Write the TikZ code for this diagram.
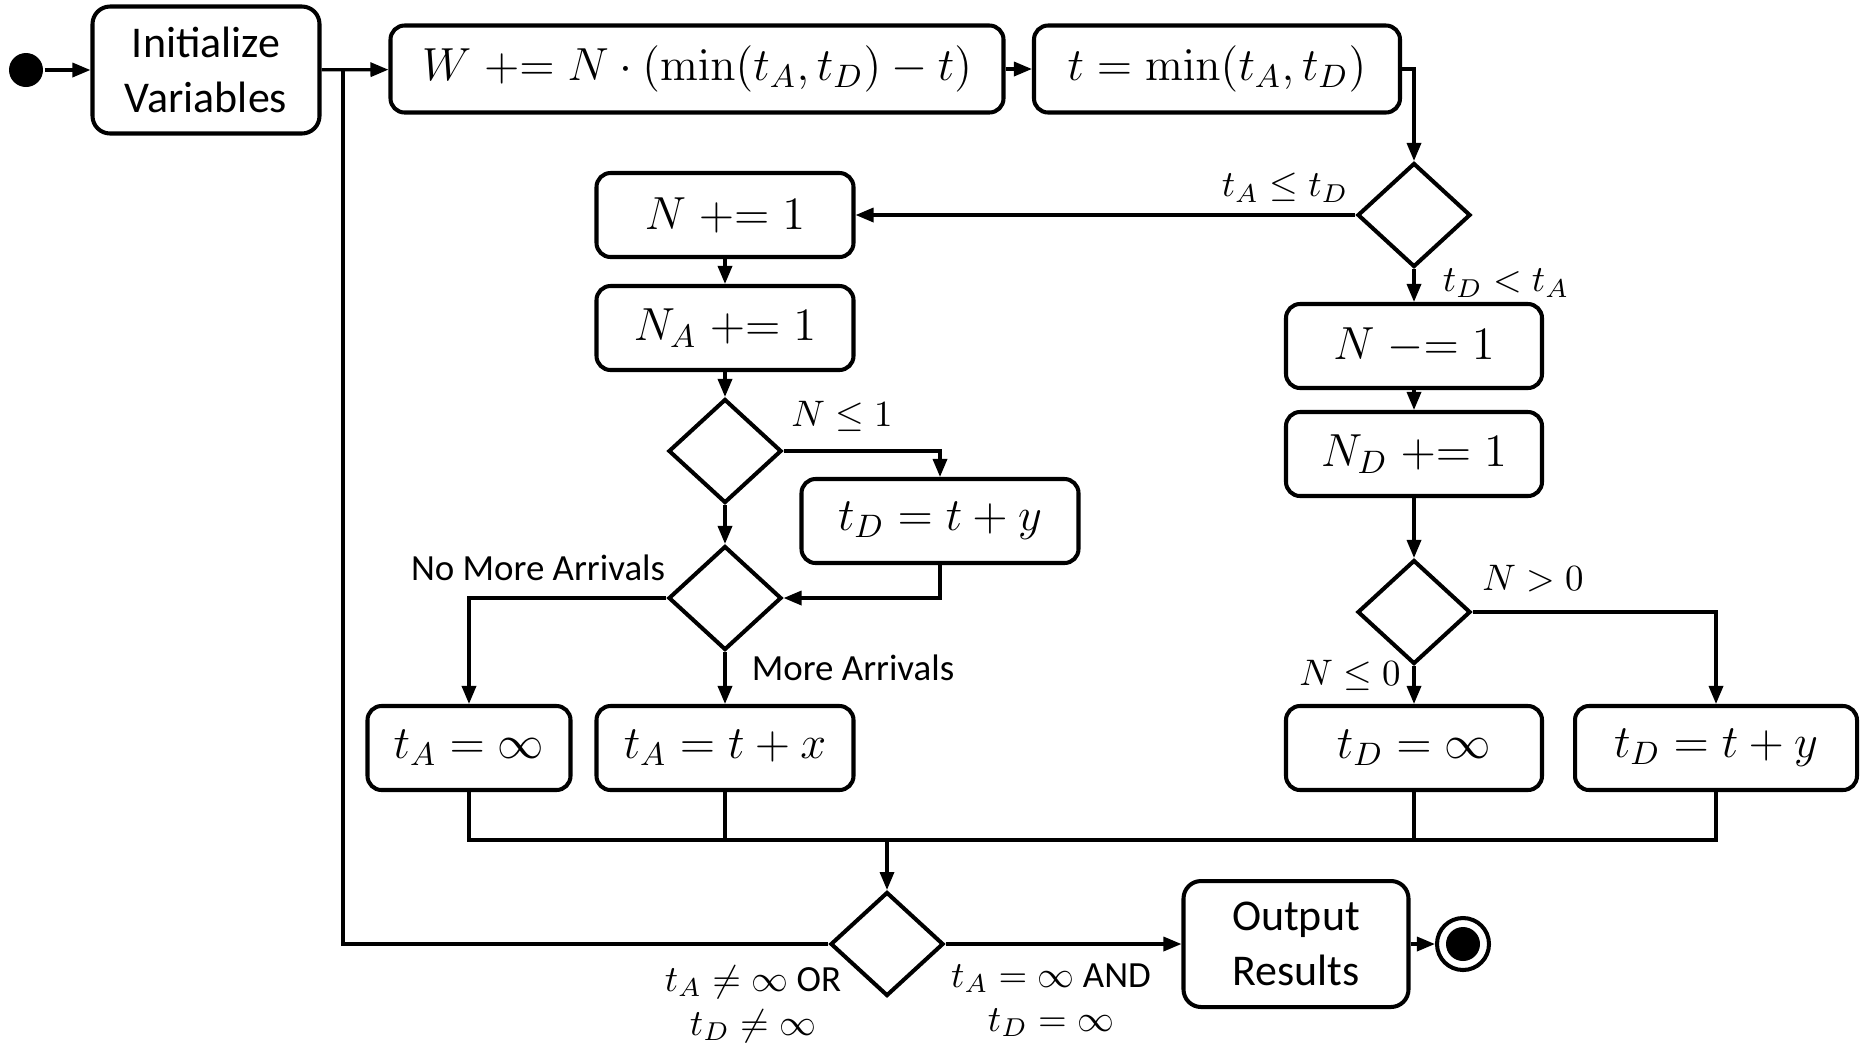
\RequirePackage{fix-cm}
\documentclass[tikz,border=0pt]{standalone}
\usepackage[no-math]{fontspec}
\setmainfont{Carlito}
\usetikzlibrary{shapes.geometric,arrows.meta}

\begin{document}
\begin{tikzpicture}[
	x=0.1mm,
	y=-0.1mm,
	>={Triangle[length=1.8mm,width=1.4mm]},
	line width=0.95pt,
	box/.style={draw, line width=1.15pt, rounded corners=4pt, align=center, inner sep=0pt, minimum height=8.4mm, font=\fontsize{13.2}{15.5}\selectfont},
	textbox/.style={draw, line width=1.15pt, rounded corners=5pt, align=center, inner sep=0pt, font=\fontsize{12.5}{15.5}\selectfont},
	decision/.style={draw, diamond, line width=1.15pt, minimum width=11.3mm, minimum height=10.4mm, inner sep=0pt},
	dot/.style={circle, fill, minimum size=3.4mm, inner sep=0pt},
	lbl/.style={font=\fontsize{10.5}{12.5}\selectfont, inner sep=1pt, align=center}
]
	\useasboundingbox (0,0) rectangle (1860,1046);

	\node[dot] (start) at (26,70) {};
	\node[textbox, minimum width=22.7mm, minimum height=12.7mm] (init) at (206,70) {Initialize\\Variables};
	\node[box, minimum width=61.3mm, minimum height=8.7mm] (wupd) at (697,69) {$W \mathrel{+}= N\cdot(\min(t_A,t_D)-t)$};
	\node[box, minimum width=36.6mm, minimum height=8.7mm] (tmin) at (1217,69) {$t=\min(t_A,t_D)$};

	\node[decision] (arrdep) at (1414,215) {};

	% arrival side
	\node[box, minimum width=25.7mm] (ninc)   at (725,215) {$N \mathrel{+}= 1$};
	\node[box, minimum width=25.7mm] (nainc)  at (725,328) {$N_A \mathrel{+}= 1$};
	\node[decision] (busy) at (725,451) {};
	\node[box, minimum width=27.7mm] (tdset)  at (940,521) {$t_D=t+y$};
	\node[decision] (more) at (725,598) {};
	\node[box, minimum width=20.3mm] (tainf)  at (469,748) {$t_A=\infty$};
	\node[box, minimum width=25.7mm] (tanext) at (725,748) {$t_A=t+x$};

	% departure side
	\node[box, minimum width=25.6mm] (ndec)   at (1414,346) {$N \mathrel{-}= 1$};
	\node[box, minimum width=25.6mm] (ndinc)  at (1414,454) {$N_D \mathrel{+}= 1$};
	\node[decision] (empty) at (1414,612) {};
	\node[box, minimum width=25.6mm] (tdinf)  at (1414,748) {$t_D=\infty$};
	\node[box, minimum width=28.2mm] (tdnext) at (1716,748) {$t_D=t+y$};

	\node[decision] (done) at (887,944) {};
	\node[textbox, minimum width=22.5mm, minimum height=12.6mm] (output) at (1296,944) {Output\\Results};
	\node[circle, draw, line width=1.15pt, minimum size=5.2mm, inner sep=0pt] (stop) at (1463,944) {};
	\node[dot] (stopdot) at (stop) {};

	\coordinate (loop) at (343,70);
	\coordinate (merge) at (887,840);

	\draw[->] (start) -- (init);
	\draw[->] (init) -- (wupd);
	\draw[->] (wupd) -- (tmin);
	\draw[->] (tmin.east) -| (arrdep.north);
	\draw[->] (arrdep.west) -- (ninc.east);
	\draw[->] (arrdep.south) -- (ndec.north);

	\draw[->] (ninc) -- (nainc);
	\draw[->] (nainc) -- (busy);
	\draw[->] (busy.east) -| (tdset.north);
	\draw[->] (busy) -- (more);
	\draw[->] (tdset.south) |- (more.east);
	\draw[->] (more.west) -| (tainf.north);
	\draw[->] (more) -- (tanext);

	\draw[->] (ndec) -- (ndinc);
	\draw[->] (ndinc) -- (empty);
	\draw[->] (empty.east) -| (tdnext.north);
	\draw[->] (empty) -- (tdinf);

	\draw (tainf.south) |- (merge) -| (tdnext.south);
	\draw (tanext.south) -- (tanext.south |- merge);
	\draw (tdinf.south) -- (tdinf.south |- merge);
	\draw[->] (merge) -- (done.north);
	\draw (done.west) -| (loop);
	\draw[->] (done) -- (output);
	\draw[->] (output) -- (stop);

	\node[lbl] (lblarr)    at (1285,188) {$t_A\le t_D$};
	\node[lbl] (lbldep)    at (1506,283) {$t_D<t_A$};
	\node[lbl] (lblbusy)   at (842,416)  {$N\le 1$};
	\node[lbl] (lblnomore) at (538,568)  {No More Arrivals};
	\node[lbl] (lblmore)   at (853,668)  {More Arrivals};
	\node[lbl] (lblpos)    at (1533,579) {$N>0$};
	\node[lbl] (lblzero)   at (1350,675) {$N\le 0$};
	\node[lbl] (lblgo)     at (753,1004) {$t_A\neq\infty$ OR\\$t_D\neq\infty$};
	\node[lbl] (lblend)    at (1051,1000) {$t_A=\infty$ AND\\$t_D=\infty$};
\end{tikzpicture}
\end{document}
